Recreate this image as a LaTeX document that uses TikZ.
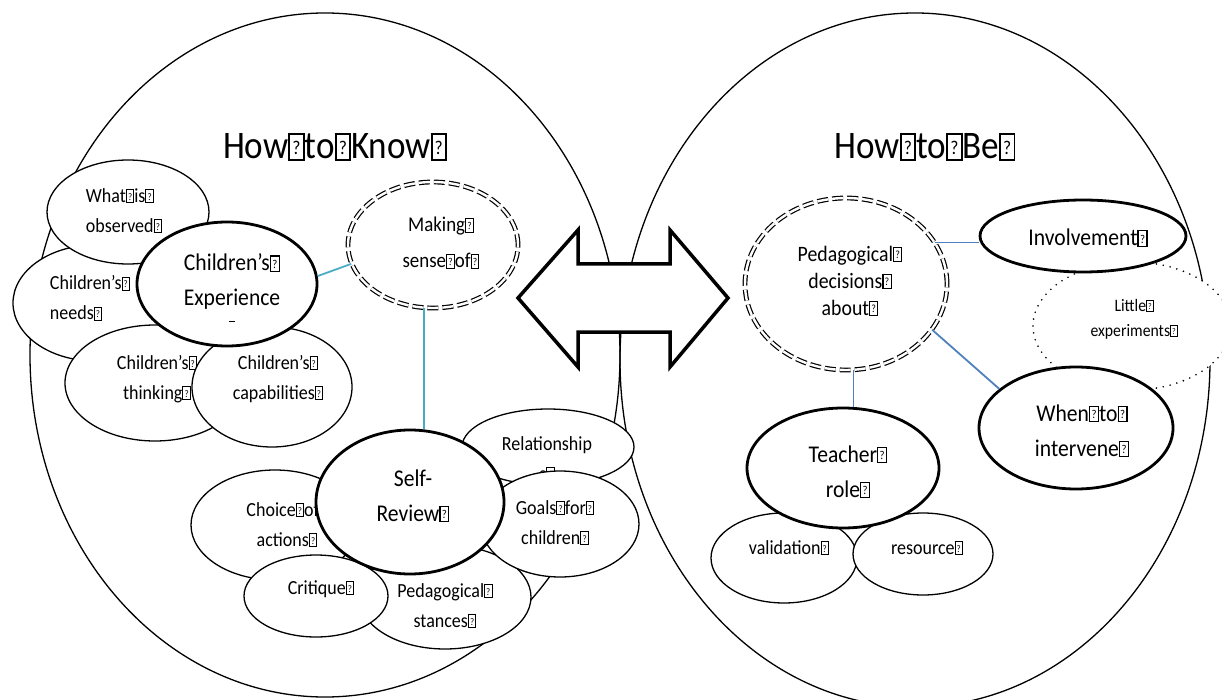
\documentclass[tikz,border=0pt]{standalone}
\usepackage{fontspec}
\setmainfont{Carlito}[FakeStretch=0.9]
\usepackage{graphicx}
\usepackage{tikz}
\usetikzlibrary{shapes.geometric}

\definecolor{linkleft}{HTML}{4BACC6}
\definecolor{linkright}{HTML}{4F81BD}

% little framed question box that stands in for a lost glyph
\newcommand{\qb}{{\setlength{\fboxsep}{0pt}\setlength{\fboxrule}{.05em}\fbox{\makebox[.32em]{\rule{0pt}{.6em}\raisebox{.1em}{\scalebox{.5}{?}}}}}}

\begin{document}
\begin{tikzpicture}[x=1pt,y=-1pt,
  bubble/.style={ellipse,draw,fill=white,line width=1.3pt,inner sep=0pt},
  heavy/.style={bubble,line width=2.8pt},
  sense/.style={bubble,double,double distance=2.4pt,line width=1.2pt,dash pattern=on 11pt off 4pt},
  dotty/.style={bubble,line width=1.8pt,line cap=round,dash pattern=on 0pt off 7pt},
  txt/.style={align=center,inner sep=0pt,font=\fontsize{20}{30}\selectfont},
  bigtxt/.style={align=center,inner sep=0pt,font=\fontsize{24}{35}\selectfont},
  linkL/.style={draw=linkleft,line width=1.8pt},
  linkR/.style={draw=linkright,line width=1.8pt}]
\fill[white] (0,0) rectangle (1222,700);
\useasboundingbox (0,0) rectangle (1222,700);

% the two halves
\draw[line width=1.3pt] (325,355) ellipse [x radius=295, y radius=342];
\draw[line width=1.3pt] (915,360) ellipse [x radius=295, y radius=347];
\draw[line width=3.5pt,fill=white,line join=miter] (518,298) -- (578,230) -- (578,264) -- (670,264) -- (670,230) -- (728,298) -- (670,367) -- (670,332) -- (578,332) -- (578,367) -- cycle;
\node[font=\fontsize{39}{44}\selectfont] (know) at (335,147) {How\qb to\qb Know\qb};
\node[font=\fontsize{39}{44}\selectfont] (be) at (925,147) {How\qb to\qb Be\qb};

% how to know
\node[bubble,minimum width=164,minimum height=116] (needs) at (95,303) {};
\node[txt,align=left] (needs-t) at (90,298) {Children’s\qb\\needs\qb};
\node[bubble,minimum width=162,minimum height=104] (obs) at (128,212) {};
\node[txt,align=left] (obs-t) at (124,211) {What\qb is\qb\\observed\qb};
\node[bubble,minimum width=180,minimum height=116] (think) at (155,383) {};
\node[txt] (think-t) at (157,379) {Children’s\qb\\thinking\qb};
\node[bubble,minimum width=160,minimum height=120] (capab) at (272,387) {};
\node[txt] (capab-t) at (278,379) {Children’s\qb\\capabilities\qb};
\node[heavy,minimum width=180,minimum height=124] (exper) at (227,284) {};
\node[bigtxt] (exper-t) at (232,288) {Children’s\qb\\Experience\\[-19pt]\rule{6pt}{0.6pt}};
\node[sense,minimum width=170,minimum height=126] (making) at (433,245) {};
\node[txt,font=\fontsize{21}{36}\selectfont] (making-t) at (441,243) {Making\qb\\sense\qb of\qb};

\node[bubble,minimum width=172,minimum height=76] (relat) at (548,447) {};
\node[txt] (relat-t) at (547,459) {Relationship\\s\qb};
\node[bubble,minimum width=168,minimum height=110] (choice) at (275,525) {};
\node[txt] (choice-t) at (287,525) {Choice\qb of\qb\\actions\qb};
\node[bubble,minimum width=172,minimum height=104] (stances) at (445,597) {};
\node[txt] (stances-t) at (445,606) {Pedagogical\qb\\stances\qb};
\node[bubble,minimum width=158,minimum height=106] (goals) at (560,524) {};
\node[txt] (goals-t) at (555,523) {Goals\qb for\qb\\children\qb};
\node[bubble,minimum width=144,minimum height=82] (critique) at (316,596) {};
\node[txt] (critique-t) at (321,589) {Critique\qb};
\node[heavy,minimum width=188,minimum height=144] (review) at (410,502) {};
\node[bigtxt] (review-t) at (413,496) {Self-\\Review\qb};

% how to be
\node[dotty,minimum width=198,minimum height=128] (little) at (1132,326) {};
\node[txt,font=\fontsize{17.5}{25}\selectfont] (little-t) at (1134,319) {Little\qb\\experiments\qb};
\node[heavy,minimum width=206,minimum height=72] (involve) at (1083,236) {};
\node[bigtxt] (involve-t) at (1088,238) {Involvement\qb};
\node[heavy,minimum width=194,minimum height=122] (when) at (1076,428) {};
\node[bigtxt] (when-t) at (1082,431) {When\qb to\qb\\intervene\qb};
\node[sense,minimum width=202,minimum height=172] (pedd) at (846,284) {};
\node[txt,font=\fontsize{22}{27}\selectfont] (pedd-t) at (850,281) {Pedagogical\qb\\decisions\qb\\about\qb};
\node[bubble,minimum width=146,minimum height=90] (valid) at (784,558) {};
\node[txt] (valid-t) at (789,548) {validation\qb};
\node[bubble,minimum width=140,minimum height=82] (resource) at (923,554) {};
\node[txt] (resource-t) at (927,548) {resource\qb};
\node[heavy,minimum width=192,minimum height=120] (teacher) at (843,468) {};
\node[bigtxt] (teacher-t) at (848,472) {Teacher\qb\\role\qb};

\draw[linkL] (exper.5) -- (making.193);
\draw[linkL] (making.262) -- (making.262 |- review.north);
\draw[linkR] (pedd.25) -- (pedd.25 -| involve.west);
\draw[linkR] (pedd.-28) -- (when.153);
\draw[linkR] (pedd.-85) -- (pedd.-85 |- teacher.north);
\end{tikzpicture}
\end{document}
